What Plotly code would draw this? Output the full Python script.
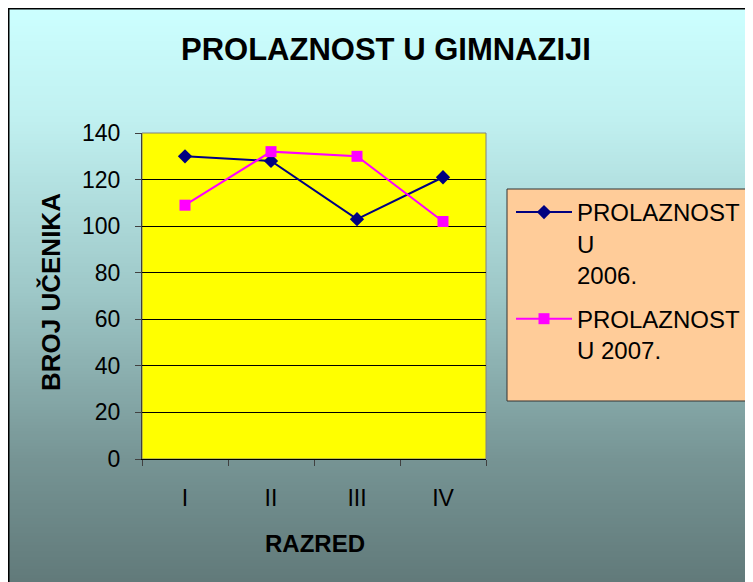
import plotly.graph_objects as go

categories = ["I", "II", "III", "IV"]
v2006 = [130, 128, 103, 121]
v2007 = [109, 132, 130, 102]
y_ticks = [0, 20, 40, 60, 80, 100, 120, 140]
name2006 = "PROLAZNOST<br>U<br>2006."
name2007 = "PROLAZNOST<br>U 2007."

OFF = 8  # page body margin
W, H = 753 - OFF, 582 - OFF
# plot area edges in screenshot pixels
SL, SR, ST, SB = 142, 486, 133, 459


def px_x(p):
    return (p - SL) / (SR - SL)


def px_y(p):
    return (SB - p) / (SB - ST)


FONT = "Arial, Liberation Sans, sans-serif"

fig = go.Figure()
fig.add_trace(go.Scatter(
    x=categories, y=v2006, name=name2006, mode="lines+markers",
    line=dict(color="#000080", width=2),
    marker=dict(symbol="diamond", size=11, color="#000080"),
    legendgroup="a",
))
fig.add_trace(go.Scatter(
    x=categories, y=v2007, name=name2007, mode="lines+markers",
    line=dict(color="#FF00FF", width=2),
    marker=dict(symbol="square", size=11, color="#FF00FF"),
    legendgroup="b",
))

# gradient background (screenshot y -> colour)
stops = [(8, (204, 255, 255)), (120, (192, 240, 240)), (290, (158, 200, 200)),
         (460, (118, 148, 148)), (600, (94, 118, 118))]


def col_at(y):
    for (y0, c0), (y1, c1) in zip(stops[:-1], stops[1:]):
        if y0 <= y <= y1:
            t = (y - y0) / (y1 - y0)
            return "rgb(%d,%d,%d)" % tuple(round(a + (b - a) * t) for a, b in zip(c0, c1))
    return "rgb(%d,%d,%d)" % stops[-1][1]


shapes = []
step = 3
yy = OFF
while yy < H + OFF:
    shapes.append(dict(type="rect", xref="paper", yref="paper", layer="below",
                       x0=px_x(OFF - 2), x1=px_x(W + OFF + 2),
                       y0=px_y(yy + step + 0.5), y1=px_y(yy),
                       fillcolor=col_at(yy + step / 2), line=dict(width=0)))
    yy += step
# frame
shapes.append(dict(type="line", xref="paper", yref="paper", layer="below",
                   x0=px_x(OFF + 0.5), x1=px_x(OFF + 0.5), y0=px_y(H + OFF + 2), y1=px_y(OFF),
                   line=dict(color="black", width=2)))
shapes.append(dict(type="line", xref="paper", yref="paper", layer="below",
                   x0=px_x(OFF), x1=px_x(W + OFF + 2), y0=px_y(OFF + 0.5), y1=px_y(OFF + 0.5),
                   line=dict(color="black", width=2)))
# plot area
shapes.append(dict(type="rect", xref="paper", yref="paper", layer="below",
                   x0=0, x1=1, y0=0, y1=1, fillcolor="#FFFF00",
                   line=dict(color="#808080", width=1)))
# legend box
shapes.append(dict(type="rect", xref="paper", yref="paper", layer="below",
                   x0=px_x(507), x1=px_x(780), y0=px_y(401), y1=px_y(189),
                   fillcolor="#FFCC99", line=dict(color="#333333", width=1)))

annotations = [
    dict(text="<b>PROLAZNOST U GIMNAZIJI</b>", xref="paper", yref="paper",
         x=px_x(386), y=px_y(50), showarrow=False, xanchor="center", yanchor="middle",
         font=dict(family=FONT, size=31, color="black")),
    dict(text="<b>BROJ UČENIKA</b>", xref="paper", yref="paper",
         x=px_x(51), y=px_y(292), showarrow=False, textangle=-90,
         xanchor="center", yanchor="middle",
         font=dict(family=FONT, size=26, color="black")),
    dict(text="<b>RAZRED</b>", xref="paper", yref="paper",
         x=px_x(315), y=px_y(543), showarrow=False, xanchor="center", yanchor="middle",
         font=dict(family=FONT, size=24, color="black")),
]

fig.update_layout(
    width=W, height=H,
    margin=dict(l=SL - OFF, r=W - (SR - OFF), t=ST - OFF, b=H - (SB - OFF), autoexpand=False),
    paper_bgcolor="rgb(204,255,255)", plot_bgcolor="rgba(0,0,0,0)",
    font=dict(family=FONT, color="black"),
    shapes=shapes, annotations=annotations,
    showlegend=True,
    legend=dict(x=px_x(511), y=px_y(190), xanchor="left", yanchor="top",
                bgcolor="rgba(0,0,0,0)", borderwidth=0, valign="top",
                itemwidth=56, tracegroupgap=10,
                font=dict(family=FONT, size=24, color="black")),
    xaxis=dict(type="category", range=[-0.5, 3.5], showgrid=False,
               showline=True, linecolor="black", linewidth=1,
               ticks="outside", ticklen=6, tickcolor="#404040", tickson="boundaries",
               tickfont=dict(family=FONT, size=23, color="black"),
               ticklabelstandoff=18, zeroline=False),
    yaxis=dict(range=[0, 140], tickvals=y_ticks, showgrid=True, gridcolor="black",
               gridwidth=1, showline=True, linecolor="#404040", linewidth=1,
               ticks="outside", ticklen=6, tickcolor="#404040",
               tickfont=dict(family=FONT, size=23, color="black"),
               ticklabelstandoff=10, zeroline=False),
)

fig.write_html("out.html")
